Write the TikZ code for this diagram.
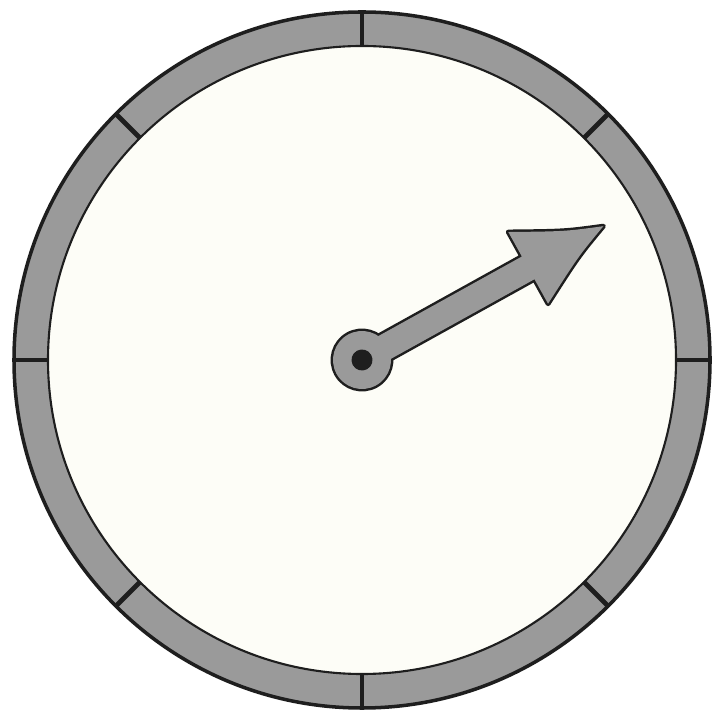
\documentclass[tikz,border=0pt]{standalone}
\usepackage{xcolor}
\usepackage{tikz}
\usetikzlibrary{calc}
\definecolor{ringgray}{HTML}{9A9A9A}
\definecolor{dialface}{HTML}{FDFDF7}
\definecolor{rimline}{HTML}{1E1E1E}

\begin{document}
\begin{tikzpicture}[x=0.01cm,y=0.01cm,
  rim/.style={draw=rimline,line width=1pt,fill=ringgray},
  face/.style={draw=rimline,line width=0.6pt,fill=dialface},
  dialmark/.style={draw=rimline,line width=1.35pt},
  ptrline/.style={draw=rimline,line width=1.4pt,line join=round},
  ptrfill/.style={fill=ringgray}]

  \useasboundingbox (-362,-353) rectangle (349,360);
  \coordinate (c) at (0,0);

  % rim and dial face
  \path[rim] (c) circle (348);
  \path[face] (c) circle (314);

  % eight marks round the rim
  \foreach \a in {0,45,...,315}
    \draw[dialmark] ($(c)+(\a:314)$) -- ($(c)+(\a:348)$);

  % pointer: outlines first, fills on top
  \begin{scope}[shift={(c)},rotate=29]
    \path[ptrline] (0,0) circle (29);
    \path[ptrline] (0,13) -- (190,13) -- (190,41)
      .. controls (240,14) .. (276,0)
      .. controls (240,-14) .. (190,-41) -- (190,-13) -- (0,-13) -- cycle;
    \path[ptrfill] (0,0) circle (29);
    \path[ptrfill] (0,13) -- (190,13) -- (190,41)
      .. controls (240,14) .. (276,0)
      .. controls (240,-14) .. (190,-41) -- (190,-13) -- (0,-13) -- cycle;
    \fill[rimline] (0,0) circle (10.5);
  \end{scope}
\end{tikzpicture}
\end{document}
